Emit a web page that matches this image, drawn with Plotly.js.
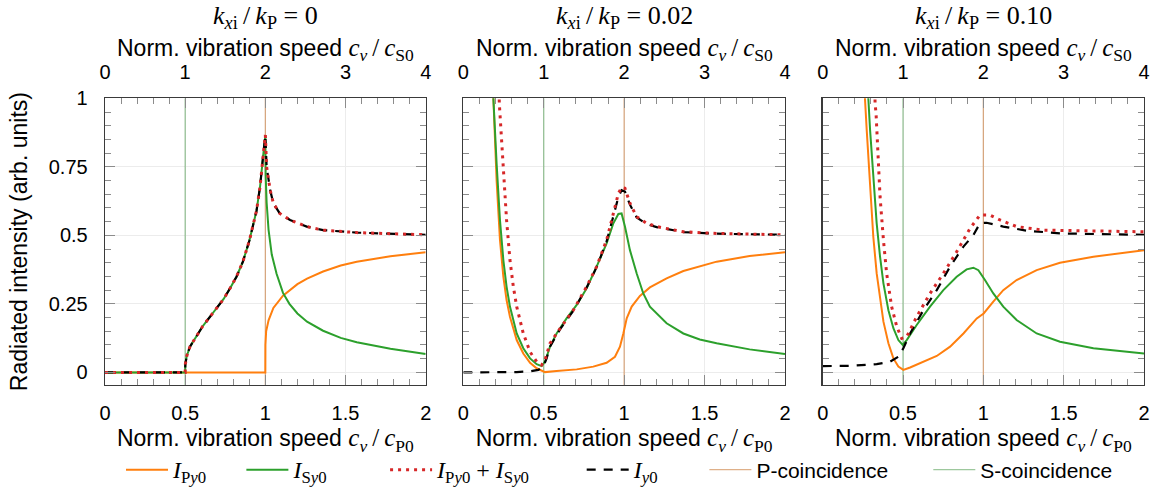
<!DOCTYPE html>
<html>
<head>
<meta charset="utf-8">
<script src="https://cdn.plot.ly/plotly-3.0.1.min.js"></script>
<style>html,body{margin:0;padding:0;background:#fff;}</style>
</head>
<body>
<div id="chart" style="width:1159px;height:495px;"></div>
<script>
// ---------- data (bottom axis: c_v / c_P0) ----------
const panelTitles = ['0', '0.02', '0.10'];
const pCoincidence = [1.0, 1.0];   // c_v/c_P0 = 1
const sCoincidence = [0.5, 0.5];   // c_v/c_P0 = 0.5
const coincY = [-0.05, 1.0];

// Panel 1: k_xi/k_P = 0
const p1_P_x = [0, 0.999, 1.0, 1.0005, 1.005, 1.02, 1.05, 1.11, 1.15, 1.2, 1.26, 1.36, 1.47, 1.57, 1.78, 2.0];
const p1_P_y = [0, 0, 0, 0.10, 0.15, 0.19, 0.235, 0.28, 0.30, 0.322, 0.342, 0.368, 0.39, 0.404, 0.424, 0.438];
const p1_S_x = [0, 0.5, 0.501, 0.51, 0.53, 0.57, 0.61, 0.655, 0.7, 0.74, 0.78, 0.82, 0.86, 0.9, 0.945, 0.967, 0.988, 1.0, 1.002, 1.008, 1.02, 1.04, 1.07, 1.11, 1.15, 1.2, 1.26, 1.36, 1.47, 1.57, 1.78, 2.0];
const p1_S_y = [0, 0, 0.03, 0.06, 0.094, 0.13, 0.169, 0.203, 0.237, 0.268, 0.307, 0.349, 0.404, 0.48, 0.59, 0.678, 0.8, 0.866, 0.72, 0.62, 0.52, 0.43, 0.36, 0.29, 0.25, 0.215, 0.185, 0.152, 0.126, 0.11, 0.086, 0.067];
const p1_sum_x = [0, 0.5, 0.501, 0.51, 0.53, 0.57, 0.61, 0.655, 0.7, 0.74, 0.78, 0.82, 0.86, 0.9, 0.945, 0.967, 0.988, 1.0, 1.008, 1.03, 1.05, 1.09, 1.154, 1.258, 1.36, 1.57, 2.0];
const p1_sum_y = [0, 0, 0.03, 0.06, 0.094, 0.13, 0.169, 0.203, 0.237, 0.268, 0.307, 0.349, 0.404, 0.48, 0.59, 0.678, 0.8, 0.866, 0.75, 0.665, 0.617, 0.58, 0.556, 0.532, 0.519, 0.51, 0.502];
const p1_y0_x = [0, 0.5, 0.501, 0.51, 0.53, 0.57, 0.61, 0.655, 0.7, 0.74, 0.78, 0.82, 0.86, 0.9, 0.945, 0.967, 0.988, 1.0, 1.008, 1.03, 1.05, 1.09, 1.154, 1.258, 1.36, 1.57, 2.0];
const p1_y0_y = [0, 0, 0.03, 0.06, 0.094, 0.13, 0.169, 0.203, 0.237, 0.268, 0.307, 0.349, 0.404, 0.48, 0.59, 0.678, 0.8, 0.866, 0.75, 0.665, 0.617, 0.58, 0.556, 0.532, 0.519, 0.51, 0.502];

// Panel 2: k_xi/k_P = 0.02
const p2_P_x = [0.18, 0.187, 0.207, 0.228, 0.249, 0.269, 0.29, 0.332, 0.373, 0.415, 0.456, 0.508, 0.58, 0.705, 0.808, 0.891, 0.943, 0.974, 0.995, 1.016, 1.047, 1.098, 1.16, 1.264, 1.368, 1.575, 1.78, 2.0];
const p2_P_y = [1.2, 1.0, 0.70, 0.483, 0.349, 0.264, 0.203, 0.118, 0.069, 0.035, 0.015, 0.001, 0.005, 0.011, 0.021, 0.035, 0.057, 0.094, 0.142, 0.197, 0.24, 0.279, 0.31, 0.343, 0.37, 0.404, 0.425, 0.438];
const p2_S_x = [0.182, 0.187, 0.207, 0.228, 0.249, 0.269, 0.29, 0.332, 0.373, 0.415, 0.456, 0.487, 0.508, 0.539, 0.58, 0.642, 0.705, 0.767, 0.829, 0.891, 0.933, 0.964, 0.984, 1.005, 1.036, 1.078, 1.119, 1.16, 1.264, 1.368, 1.47, 1.575, 1.78, 2.0];
const p2_S_y = [1.2, 1.0, 0.763, 0.556, 0.41, 0.313, 0.24, 0.142, 0.088, 0.051, 0.03, 0.023, 0.039, 0.094, 0.142, 0.197, 0.246, 0.307, 0.386, 0.471, 0.544, 0.578, 0.58, 0.532, 0.446, 0.361, 0.288, 0.24, 0.179, 0.142, 0.12, 0.106, 0.084, 0.067];
const p2_sum_x = [0.215, 0.224, 0.238, 0.249, 0.269, 0.29, 0.311, 0.332, 0.373, 0.415, 0.456, 0.487, 0.508, 0.539, 0.601, 0.684, 0.767, 0.829, 0.891, 0.933, 0.964, 0.984, 1.005, 1.036, 1.078, 1.14, 1.202, 1.368, 1.575, 2.0];
const p2_sum_y = [1.2, 0.98, 0.848, 0.738, 0.556, 0.41, 0.313, 0.24, 0.142, 0.075, 0.039, 0.027, 0.045, 0.106, 0.16, 0.227, 0.313, 0.386, 0.483, 0.58, 0.653, 0.675, 0.672, 0.617, 0.568, 0.544, 0.532, 0.513, 0.507, 0.502];
const p2_y0_x = [0, 0.332, 0.415, 0.466, 0.497, 0.518, 0.539, 0.601, 0.684, 0.767, 0.829, 0.891, 0.933, 0.964, 0.984, 1.005, 1.036, 1.078, 1.14, 1.202, 1.368, 1.575, 2.0];
const p2_y0_y = [0, 0.001, 0.004, 0.009, 0.021, 0.051, 0.094, 0.157, 0.225, 0.31, 0.384, 0.478, 0.57, 0.64, 0.665, 0.66, 0.612, 0.565, 0.541, 0.53, 0.512, 0.506, 0.502];

// Panel 3: k_xi/k_P = 0.10
const p3_P_x = [0.255, 0.263, 0.274, 0.295, 0.315, 0.336, 0.357, 0.378, 0.409, 0.44, 0.471, 0.502, 0.544, 0.627, 0.71, 0.793, 0.876, 0.959, 1.002, 1.062, 1.124, 1.207, 1.332, 1.477, 1.685, 2.0];
const p3_P_y = [1.2, 1.0, 0.884, 0.665, 0.495, 0.361, 0.264, 0.185, 0.106, 0.051, 0.021, 0.009, 0.018, 0.039, 0.06, 0.094, 0.142, 0.197, 0.215, 0.258, 0.30, 0.337, 0.373, 0.40, 0.422, 0.446];
const p3_S_x = [0.275, 0.284, 0.295, 0.315, 0.336, 0.357, 0.378, 0.409, 0.44, 0.471, 0.498, 0.523, 0.585, 0.668, 0.751, 0.834, 0.896, 0.938, 0.969, 1.01, 1.062, 1.124, 1.207, 1.332, 1.477, 1.685, 2.0];
const p3_S_y = [1.2, 1.0, 0.884, 0.702, 0.544, 0.422, 0.325, 0.227, 0.161, 0.118, 0.1, 0.118, 0.173, 0.24, 0.30, 0.349, 0.376, 0.382, 0.373, 0.337, 0.288, 0.24, 0.191, 0.142, 0.112, 0.088, 0.069];
const p3_sum_x = [0.322, 0.326, 0.332, 0.346, 0.357, 0.378, 0.398, 0.429, 0.461, 0.492, 0.523, 0.585, 0.668, 0.751, 0.834, 0.917, 0.979, 1.041, 1.104, 1.207, 1.373, 1.581, 2.0];
const p3_sum_y = [1.2, 0.98, 0.945, 0.763, 0.641, 0.483, 0.361, 0.24, 0.167, 0.124, 0.13, 0.203, 0.288, 0.361, 0.44, 0.525, 0.574, 0.574, 0.556, 0.532, 0.519, 0.517, 0.513];
const p3_y0_x = [0, 0.17, 0.336, 0.419, 0.471, 0.502, 0.544, 0.627, 0.71, 0.793, 0.876, 0.938, 0.979, 1.02, 1.124, 1.27, 1.477, 2.0];
const p3_y0_y = [0.023, 0.024, 0.03, 0.039, 0.057, 0.088, 0.142, 0.227, 0.30, 0.386, 0.459, 0.501, 0.544, 0.546, 0.532, 0.517, 0.507, 0.502];

const bottomTicks = [0, 0.5, 1, 1.5, 2];
const bottomTickText = ['0', '0.5', '1', '1.5', '2'];
const topTicks = [0, 1, 2, 3, 4];   // top axis: c_v / c_S0
const yTicks = [0, 0.25, 0.5, 0.75, 1];
const yTickText = ['0', '0.25', '0.5', '0.75', '1'];

// ---------- styling ----------
const SERIF = 'Liberation Serif';
const m = (s, fs) => '<span style="font-family:' + SERIF + ';font-size:' + fs + 'px">' + s + '</span>';
const SP = n => '&nbsp;'.repeat(n);
const LM = 24;
const names = {
  P: m('<i>I</i><sub>P<i>y</i>0</sub>', LM) + SP(5),
  S: m('<i>I</i><sub>S<i>y</i>0</sub>', LM) + SP(9),
  sum: m('<i>I</i><sub>P<i>y</i>0</sub> + <i>I</i><sub>S<i>y</i>0</sub>', LM) + SP(8),
  y0: m('<i>I</i><sub><i>y</i>0</sub>', LM) + SP(7),
  pc: 'P-coincidence' + SP(6),
  sc: 'S-coincidence'
};
const C = {
  P: '#ff7f0e', S: '#2ca02c', sum: '#d62728', y0: '#000000',
  pc: 'rgba(196,112,40,0.55)', sc: 'rgba(60,145,60,0.5)'
};

const panels = [
  {P:[p1_P_x,p1_P_y], S:[p1_S_x,p1_S_y], sum:[p1_sum_x,p1_sum_y], y0:[p1_y0_x,p1_y0_y]},
  {P:[p2_P_x,p2_P_y], S:[p2_S_x,p2_S_y], sum:[p2_sum_x,p2_sum_y], y0:[p2_y0_x,p2_y0_y]},
  {P:[p3_P_x,p3_P_y], S:[p3_S_x,p3_S_y], sum:[p3_sum_x,p3_sum_y], y0:[p3_y0_x,p3_y0_y]}
];

const traces = [];
panels.forEach((pd, i) => {
  const xa = i === 0 ? 'x' : 'x' + (2 * i + 1);
  const xt = 'x' + (2 * i + 2);
  const ya = i === 0 ? 'y' : 'y' + (i + 1);
  const first = i === 0;
  // empty carrier trace so the top (c_v/c_S0) axis is drawn
  traces.push({x: topTicks, y: topTicks.map(() => null), xaxis: xt, yaxis: ya, mode: 'lines',
    showlegend: false, hoverinfo: 'skip', line: {width: 0}});
  traces.push({x: pCoincidence, y: coincY, xaxis: xa, yaxis: ya, mode: 'lines', name: names.pc,
    line: {color: C.pc, width: 1.3}, showlegend: first, legendrank: 5, hoverinfo: 'skip'});
  traces.push({x: sCoincidence, y: coincY, xaxis: xa, yaxis: ya, mode: 'lines', name: names.sc,
    line: {color: C.sc, width: 1.3}, showlegend: first, legendrank: 6, hoverinfo: 'skip'});
  traces.push({x: pd.P[0], y: pd.P[1], xaxis: xa, yaxis: ya, mode: 'lines', name: names.P,
    line: {color: C.P, width: 2}, showlegend: first, legendrank: 1});
  traces.push({x: pd.S[0], y: pd.S[1], xaxis: xa, yaxis: ya, mode: 'lines', name: names.S,
    line: {color: C.S, width: 2}, showlegend: first, legendrank: 2});
  traces.push({x: pd.y0[0], y: pd.y0[1], xaxis: xa, yaxis: ya, mode: 'lines', name: names.y0,
    line: {color: C.y0, width: 2.2, dash: '9px,8px'}, showlegend: first, legendrank: 4});
  traces.push({x: pd.sum[0], y: pd.sum[1], xaxis: xa, yaxis: ya, mode: 'lines', name: names.sum,
    line: {color: C.sum, width: 3, dash: '3px,5px'}, showlegend: first, legendrank: 3});
});

const W = 1159, H = 495;
const xDom = [[105, 425.7], [463.3, 785], [822.7, 1144]].map(d => [d[0] / W, d[1] / W]);
const yDom = [(H - 385) / H, (H - 98.3) / H];

const SANS = 'Liberation Sans, Arial, sans-serif';
const tickFont = {family: SANS, size: 20, color: '#000'};
const titleFont = {family: SANS, size: 23, color: '#000'};
const TS = '&#8201;';
const axisTitle = sub => 'Norm. vibration speed ' + m('<i>c<sub>v</sub></i>' + TS + '/' + TS + '<i>c</i><sub>' + sub + '</sub>', 25);
const frame = '#3a3a3a';
const tickCol = '#8c8c8c';
const MAJ = 10, MIN = 6;

const layout = {
  width: W, height: H,
  margin: {l: 0, r: 0, t: 0, b: 0},
  paper_bgcolor: '#fff', plot_bgcolor: '#fff',
  showlegend: true,
  legend: {orientation: 'h', x: 121 / W, xanchor: 'left', y: (H - 470) / H, yanchor: 'middle',
    font: {family: SANS, size: 21, color: '#000'}, itemwidth: 42, traceorder: 'normal'},
  annotations: [],
  hovermode: false
};

for (let i = 0; i < 3; i++) {
  const bx = i === 0 ? 'xaxis' : 'xaxis' + (2 * i + 1);
  const tx = 'xaxis' + (2 * i + 2);
  const yk = i === 0 ? 'yaxis' : 'yaxis' + (i + 1);
  const yref = i === 0 ? 'y' : 'y' + (i + 1);
  const bref = i === 0 ? 'x' : 'x' + (2 * i + 1);
  const cx = (xDom[i][0] + xDom[i][1]) / 2;
  layout[bx] = {
    domain: xDom[i], anchor: yref, range: [0, 2], side: 'bottom',
    tickmode: 'array', tickvals: bottomTicks, ticktext: bottomTickText,
    ticks: 'inside', ticklen: MAJ, tickcolor: tickCol, tickwidth: 1,
    minor: {dtick: 0.1, tick0: 0, ticks: 'inside', ticklen: MIN, tickcolor: tickCol, showgrid: false},
    showline: true, linecolor: frame, linewidth: 1.3, mirror: false,
    showgrid: true, gridcolor: '#ececec', gridwidth: 1, zeroline: false,
    tickfont: tickFont, ticklabelstandoff: 10,
    title: {text: axisTitle('P0'), font: titleFont, standoff: 2}
  };
  layout[tx] = {
    domain: xDom[i], anchor: yref, overlaying: bref, range: [0, 4], side: 'top',
    tickmode: 'array', tickvals: topTicks,
    ticks: 'inside', ticklen: MAJ, tickcolor: tickCol, tickwidth: 1,
    minor: {dtick: 0.2, tick0: 0, ticks: 'inside', ticklen: MIN, tickcolor: tickCol, showgrid: false},
    showline: true, linecolor: frame, linewidth: 1.3,
    showgrid: false, zeroline: false,
    tickfont: tickFont, ticklabelstandoff: 10
  };
  layout[yk] = {
    domain: yDom, anchor: bref, range: [-0.046, 1],
    tickmode: 'array', tickvals: yTicks, ticktext: yTickText,
    ticks: 'inside', ticklen: MAJ, tickcolor: tickCol, tickwidth: 1,
    minor: {dtick: 0.05, tick0: 0, ticks: 'inside', ticklen: MIN, tickcolor: tickCol, showgrid: false},
    showline: true, linecolor: frame, linewidth: 1.3, mirror: 'ticks',
    showgrid: true, gridcolor: '#ececec', gridwidth: 1, zeroline: false,
    showticklabels: i === 0, tickfont: tickFont, ticklabelstandoff: 12,
    title: i === 0 ? {text: 'Radiated intensity (arb. units)', font: titleFont, standoff: 14} : {text: ''}
  };
  // top axis title (c_v / c_S0)
  layout.annotations.push({
    xref: 'paper', yref: 'paper', x: cx, y: (H - 50) / H,
    xanchor: 'center', yanchor: 'middle', showarrow: false,
    text: axisTitle('S0'), font: titleFont
  });
  // panel title
  layout.annotations.push({
    xref: 'paper', yref: 'paper', x: cx, y: (H - 17) / H,
    xanchor: 'center', yanchor: 'middle', showarrow: false,
    text: '<i>k</i><sub><i>x</i>i</sub>' + TS + '/' + TS + '<i>k</i><sub>P</sub> = ' + panelTitles[i],
    font: {family: SERIF, size: 26, color: '#000'}
  });
}

Plotly.newPlot('chart', traces, layout, {staticPlot: true, displayModeBar: false});
</script>
</body>
</html>
